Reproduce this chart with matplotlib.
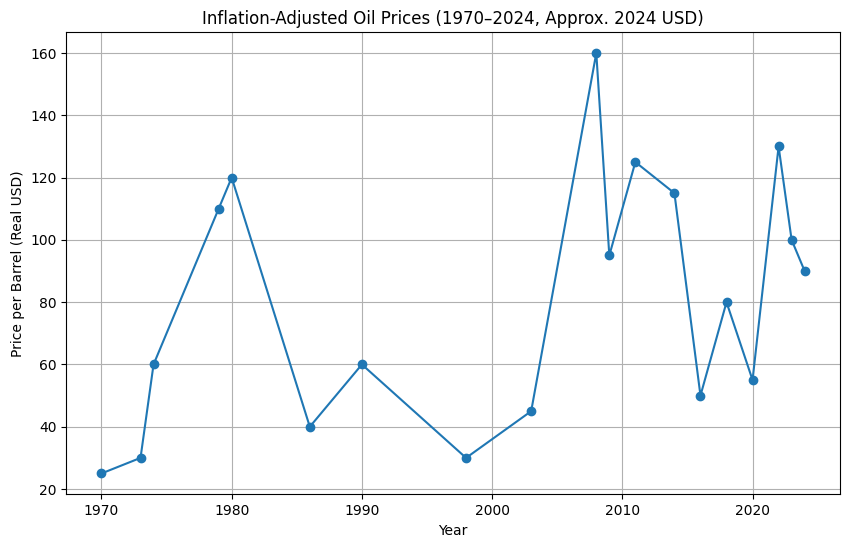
import matplotlib
matplotlib.use("Agg")
import matplotlib.pyplot as plt

# Approximate real oil prices (2024 USD)
years = [1970, 1973, 1974, 1979, 1980, 1986, 1990, 1998, 2003, 2008,
         2009, 2011, 2014, 2016, 2018, 2020, 2022, 2023, 2024]
prices = [25, 30, 60, 110, 120, 40, 60, 30, 45, 160,
          95, 125, 115, 50, 80, 55, 130, 100, 90]

fig, ax = plt.subplots(figsize=(8.5, 5.47), dpi=100)
fig.subplots_adjust(left=0.078, right=0.988, top=0.9415, bottom=0.096)

ax.plot(years, prices, marker="o")
ax.set_title("Inflation-Adjusted Oil Prices (1970\u20132024, Approx. 2024 USD)")
ax.set_xlabel("Year")
ax.set_ylabel("Price per Barrel (Real USD)")
ax.grid(True)

fig.savefig("out.png", dpi=100)
